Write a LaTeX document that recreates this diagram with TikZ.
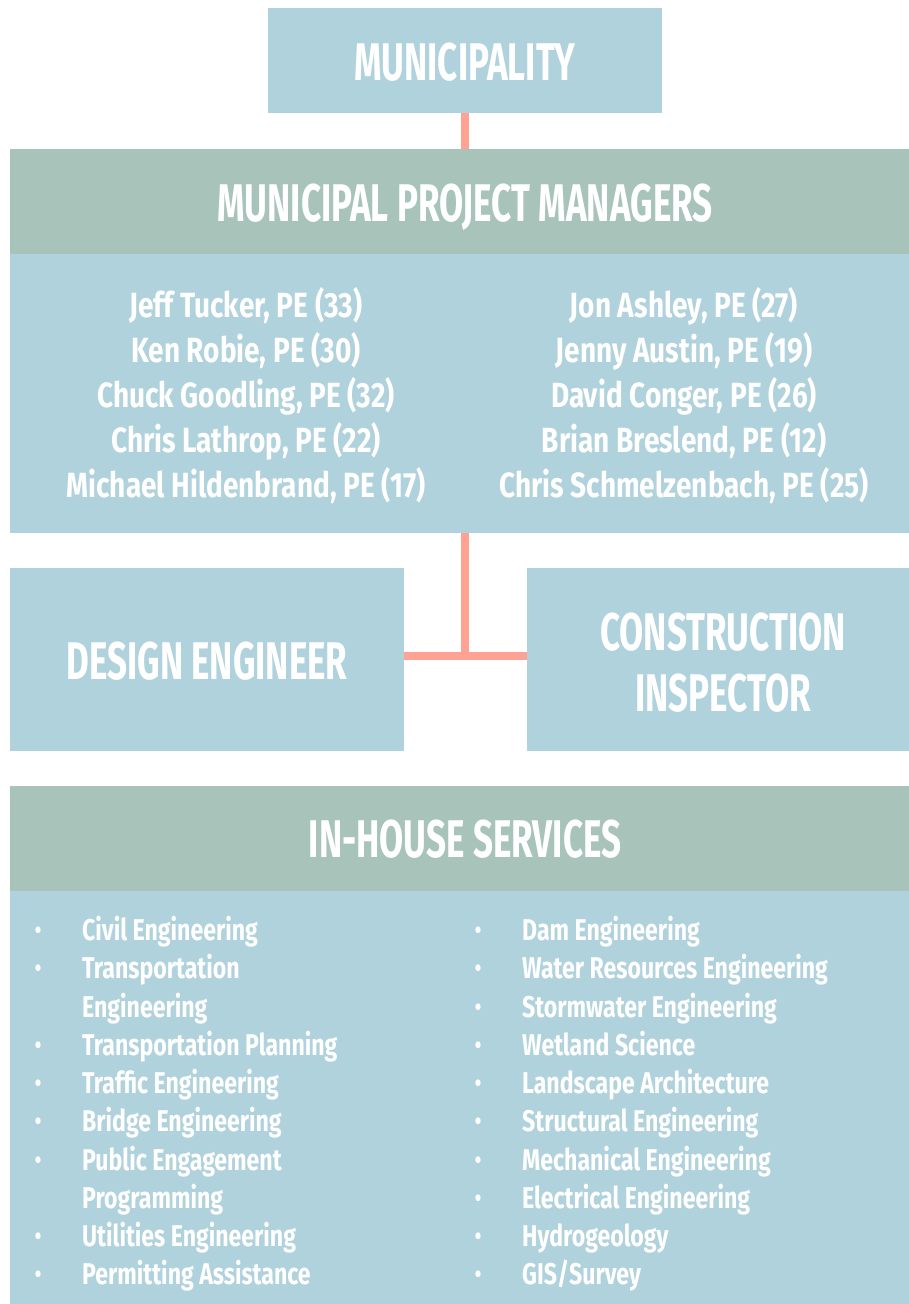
\documentclass[tikz,border=0pt]{standalone}
\usepackage{fontspec}
\newfontfamily\hfont{Fira Sans}[FakeStretch=0.66]
\newfontfamily\bfont{Fira Sans}[FakeStretch=0.8]
\newfontfamily\lfont{Fira Sans}[FakeStretch=0.77]
\definecolor{boxblue}{HTML}{B0D2DC}
\definecolor{boxgreen}{HTML}{A8C4BA}
\definecolor{linkcol}{HTML}{FFA294}
\tikzset{
  box/.style={fill=boxblue, draw=none, inner sep=0pt, outer sep=0pt},
  headbox/.style={fill=boxgreen, draw=none, inner sep=0pt, outer sep=0pt},
  htext/.style={text=white, inner sep=0pt, anchor=base, font=\hfont\bfseries\fontsize{53}{61}\selectfont},
  ntext/.style={text=white, inner sep=0pt, anchor=base, font=\bfont\bfseries\fontsize{35}{45}\selectfont},
  ltext/.style={text=white, inner sep=0pt, anchor=base west, font=\lfont\bfseries\fontsize{30}{38}\selectfont},
  bul/.style={text=white, inner sep=0pt, anchor=base, font=\lfont\fontsize{30}{38}\selectfont},
  link/.style={draw=linkcol, line width=8pt}
}
\begin{document}
\begin{tikzpicture}[x=1pt, y=-1pt]
\useasboundingbox (0,0) rectangle (909,1304);
% boxes
\node[box, minimum width=394pt, minimum height=105pt] (muni) at (465,60.5) {};
\node[headbox, minimum width=899pt, minimum height=105pt] (mpmhead) at (459.5,201.5) {};
\node[box, minimum width=899pt, minimum height=279pt] (mpmbody) at (459.5,393.5) {};
\node[box, minimum width=394pt, minimum height=183pt] (design) at (207,659.5) {};
\node[box, minimum width=382pt, minimum height=183pt] (cons) at (718,659.5) {};
\node[headbox, minimum width=899pt, minimum height=105pt] (ihhead) at (459.5,838.5) {};
\node[box, minimum width=899pt, minimum height=413pt] (ihbody) at (459.5,1097.5) {};
% connectors
\coordinate (j) at (465,656);
\draw[link] (muni.south) -- (muni.south |- mpmhead.north);
\draw[link] (mpmbody.south -| j) -- (j);
\draw[link] (design.east |- j) -- (cons.west |- j);
% header texts
\node[htext] (t1) at (465,80) {MUNICIPALITY};
\node[htext] (t2) at (465,221) {MUNICIPAL PROJECT MANAGERS};
\node[htext] (t3) at (207,679) {DESIGN ENGINEER};
\node[htext] (t4) at (723,650) {CONSTRUCTION};
\node[htext] (t5) at (723,711) {INSPECTOR};
\node[htext] (t6) at (465,857) {IN-HOUSE SERVICES};
% names
\foreach \n/\y [count=\i] in {Jeff Tucker{,} PE (33)/317, Ken Robie{,} PE (30)/362, Chuck Goodling{,} PE (32)/407, Chris Lathrop{,} PE (22)/452, Michael Hildenbrand{,} PE (17)/497}
  \node[ntext] (nl\i) at (246,\y) {\n};
\foreach \n/\y [count=\i] in {Jon Ashley{,} PE (27)/317, Jenny Austin{,} PE (19)/362, David Conger{,} PE (26)/407, Brian Breslend{,} PE (12)/452, Chris Schmelzenbach{,} PE (25)/497}
  \node[ntext] (nr\i) at (684,\y) {\n};
% left services
\foreach \n/\y [count=\i] in {Civil Engineering/940, Transportation/978, Transportation Planning/1055, Traffic Engineering/1093, Bridge Engineering/1131, Public Engagement/1170, Utilities Engineering/1246, Permitting Assistance/1284}{
  \node[bul] (lb\i) at (38,\y) {•};
  \node[ltext] (ls\i) at (82,\y) {\n};
}
\node[ltext] (ls2b) at (82,1017) {Engineering};
\node[ltext] (ls6b) at (82,1208) {Programming};
% right services
\foreach \n/\y [count=\i] in {Dam Engineering/940, Water Resources Engineering/978, Stormwater Engineering/1017, Wetland Science/1055, Landscape Architecture/1093, Structural Engineering/1131, Mechanical Engineering/1170, Electrical Engineering/1208, Hydrogeology/1246, {GIS/Survey}/1284}{
  \node[bul] (rb\i) at (478,\y) {•};
  \node[ltext] (rs\i) at (522,\y) {\n};
}
\end{tikzpicture}
\end{document}
